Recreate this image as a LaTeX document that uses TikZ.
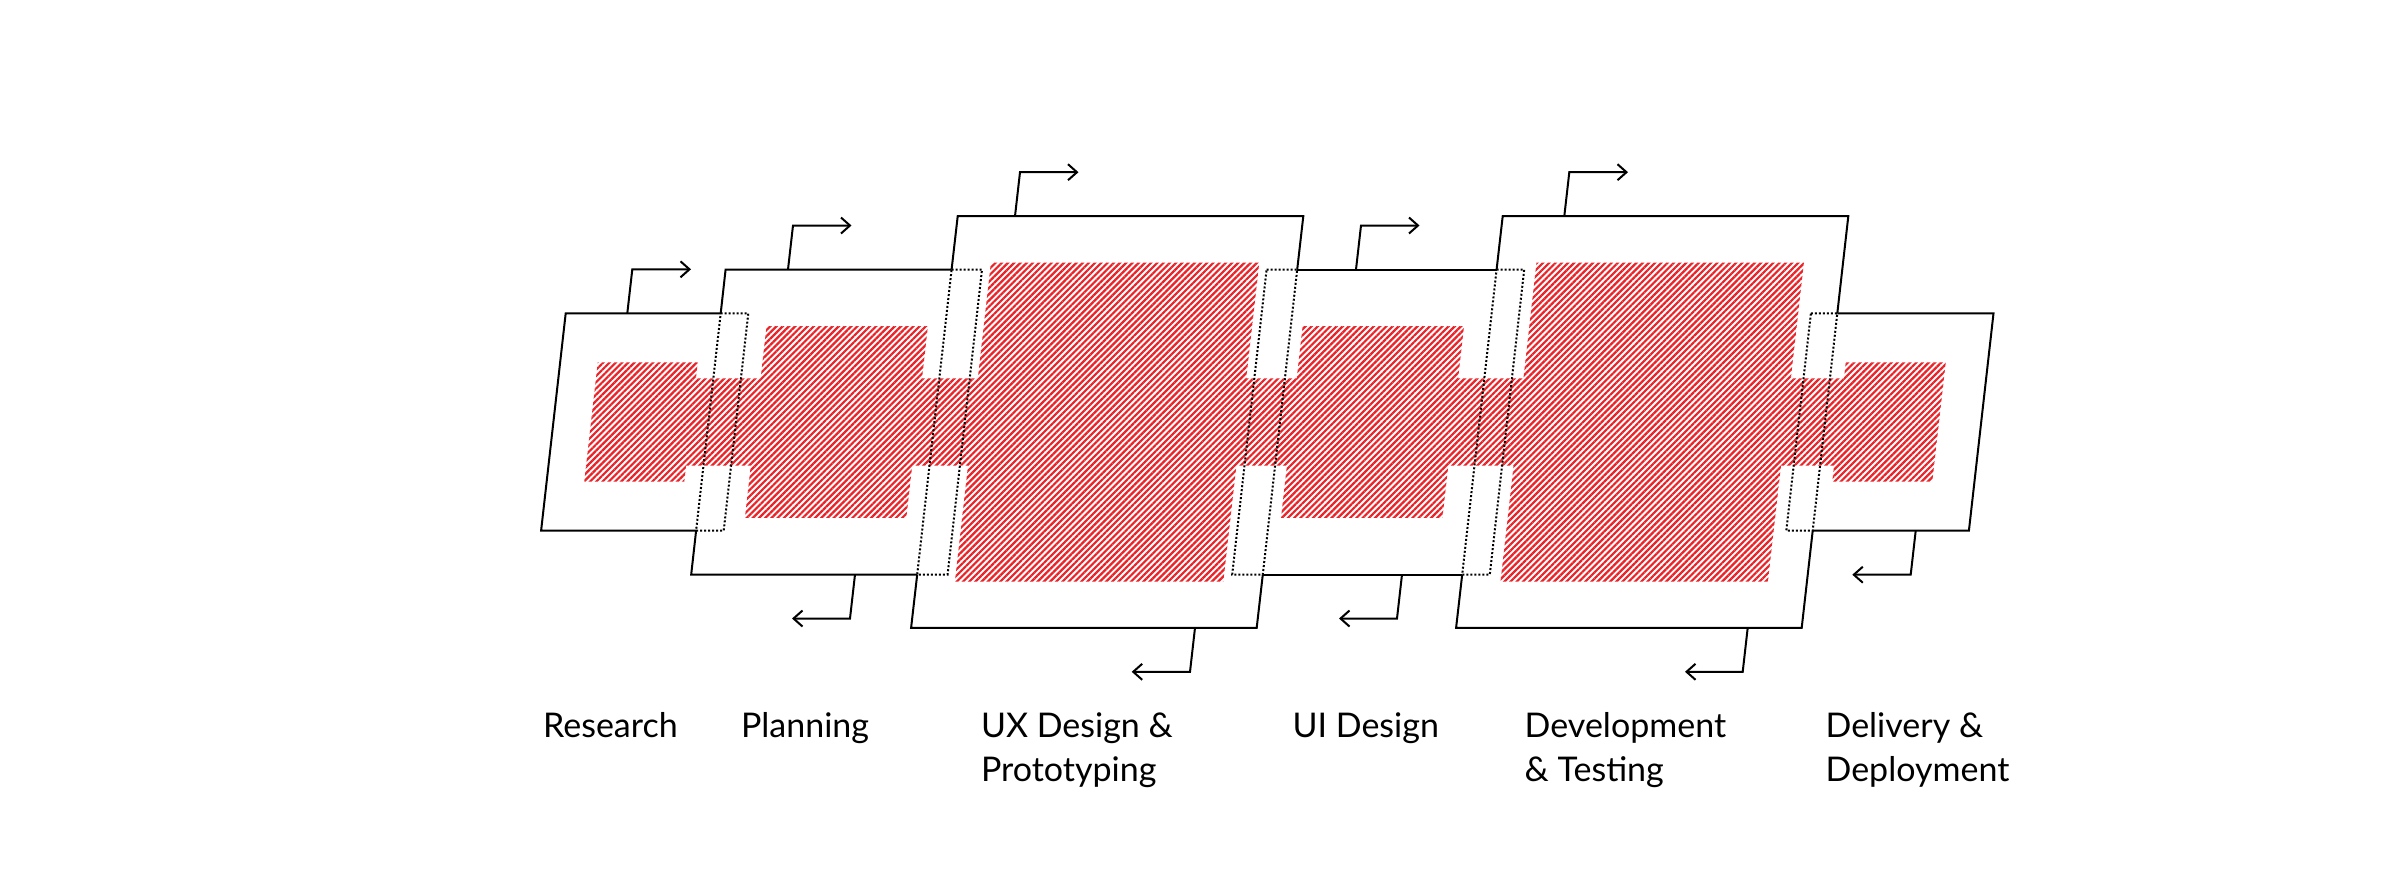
\documentclass[tikz,border=0pt]{standalone}
\usepackage{fontspec}
\setmainfont{Lato}
\usetikzlibrary{arrows.meta,patterns.meta}
\definecolor{hatchred}{RGB}{235,35,40}
\begin{document}
\begin{tikzpicture}[x=0.5pt,y=-0.5pt,
  boxline/.style={line width=1pt, line join=miter},
  overlapline/.style={line width=1pt, dash pattern=on 1pt off 1pt},
  hatchfill/.style={pattern={Lines[angle=45,distance=2.2pt,line width=1.1pt]}, pattern color=hatchred},
  flowarrow/.style={line width=1pt, -{Straight Barb[length=4.5pt,width=8pt]}},
  phaselabel/.style={anchor=base west, align=left, font=\fontsize{17}{22}\selectfont, inner sep=0pt}]
\useasboundingbox (0,0) rectangle (2395,885);
\fill[white] (0,0) rectangle (2395,885);

% hatched inner areas and connecting band
\fill[hatchfill]
  (597.75,362.3) -- (697.75,362.3) -- (684.25,481.7) -- (584.25,481.7) -- cycle
  (766.5,326.15) -- (927.9,326.15) -- (906.3,517.85) -- (744.9,517.85) -- cycle
  (990.9,262.5) -- (1259.3,262.5) -- (1223.3,581.5) -- (954.9,581.5) -- cycle
  (1302.6,326.15) -- (1464.0,326.15) -- (1442.4,517.85) -- (1281.0,517.85) -- cycle
  (1536.5,262.5) -- (1803.9,262.5) -- (1767.9,581.5) -- (1500.5,581.5) -- cycle
  (1845.75,362.3) -- (1945.75,362.3) -- (1932.25,481.7) -- (1832.25,481.7) -- cycle
  (641,378.3) -- (1889,378.3) -- (1889,465.7) -- (641,465.7) -- cycle;

% visible outlines
\draw[boxline] (720.7,313.3) -- (565.7,313.3) -- (541.1,530.7) -- (696.1,530.7);
\draw[boxline] (951.6,269.5) -- (725.6,269.5) -- (720.7,313.3);
\draw[boxline] (696.1,530.7) -- (691.2,574.5) -- (917.2,574.5);
\draw[boxline] (951.6,269.5) -- (957.7,216.2) -- (1303.3,216.2) -- (1297.2,269.5);
\draw[boxline] (917.2,574.5) -- (911.1,627.8) -- (1256.7,627.8) -- (1262.8,574.5);
\draw[boxline] (1297.2,269.5) -- (1496.6,269.5);
\draw[boxline] (1262.8,574.5) -- (1462.2,574.5);
\draw[boxline] (1496.6,269.5) -- (1502.7,216.2) -- (1848.3,216.2) -- (1837.3,313.3);
\draw[boxline] (1812.7,530.7) -- (1801.7,627.8) -- (1456.1,627.8) -- (1462.2,574.5);
\draw[boxline] (1837.3,313.3) -- (1993.5,313.3) -- (1968.9,530.7) -- (1812.7,530.7);

% overlapping (hidden) parts
\draw[overlapline] (720.7,313.3) -- (748.3,313.3) -- (723.7,530.7) -- (696.1,530.7) -- cycle;
\draw[overlapline] (951.6,269.5) -- (982.0,269.5) -- (947.6,574.5) -- (917.2,574.5) -- cycle;
\draw[overlapline] (1266.6,269.5) -- (1297.2,269.5) -- (1262.8,574.5) -- (1232.2,574.5) -- cycle;
\draw[overlapline] (1496.6,269.5) -- (1524.2,269.5) -- (1489.8,574.5) -- (1462.2,574.5) -- cycle;
\draw[overlapline] (1810.9,313.3) -- (1837.3,313.3) -- (1812.7,530.7) -- (1786.3,530.7) -- cycle;

% arrow anchor points
\coordinate (rT0) at (627.3,313.3);  \coordinate (rT1) at (632.3,269.3);  \coordinate (rT2) at (691,269.3);
\coordinate (pT0) at (788,269.5);    \coordinate (pT1) at (793,225.5);    \coordinate (pT2) at (851.5,225.5);
\coordinate (uT0) at (1015,216.2);   \coordinate (uT1) at (1020,172.2);   \coordinate (uT2) at (1078.5,172.2);
\coordinate (iT0) at (1356,269.5);   \coordinate (iT1) at (1361,225.5);   \coordinate (iT2) at (1419.5,225.5);
\coordinate (dT0) at (1564.3,216.2); \coordinate (dT1) at (1569.3,172.2); \coordinate (dT2) at (1628,172.2);
\coordinate (pB0) at (855,574.5);    \coordinate (pB1) at (850,618.5);    \coordinate (pB2) at (792,618.5);
\coordinate (uB0) at (1195,627.8);   \coordinate (uB1) at (1190,671.8);   \coordinate (uB2) at (1131.7,671.8);
\coordinate (iB0) at (1402,574.5);   \coordinate (iB1) at (1397,618.5);   \coordinate (iB2) at (1339,618.5);
\coordinate (dB0) at (1747.7,627.8); \coordinate (dB1) at (1742.7,671.8); \coordinate (dB2) at (1685,671.8);
\coordinate (lB0) at (1915.7,530.7); \coordinate (lB1) at (1910.7,574.7); \coordinate (lB2) at (1852.3,574.7);

\foreach \a in {rT,pT,uT,iT,dT,pB,uB,iB,dB,lB}
  \draw[flowarrow] (\a0) -- (\a1) -- (\a2);

% labels (two-line labels are anchored at the baseline of their last line)
\node[phaselabel] (research) at (542.7,737.7) {Research};
\node[phaselabel] (planning) at (740.7,737.7) {Planning};
\node[phaselabel] (uxdesign) at (980.6,781.7) {UX Design \&\\Prototyping};
\node[phaselabel] (uidesign) at (1292.2,737.7) {UI Design};
\node[phaselabel] (devtest) at (1524.3,781.7) {Development\\\& Testing};
\node[phaselabel] (delivery) at (1825.2,781.7) {Delivery \&\\Deployment};
\end{tikzpicture}
\end{document}
